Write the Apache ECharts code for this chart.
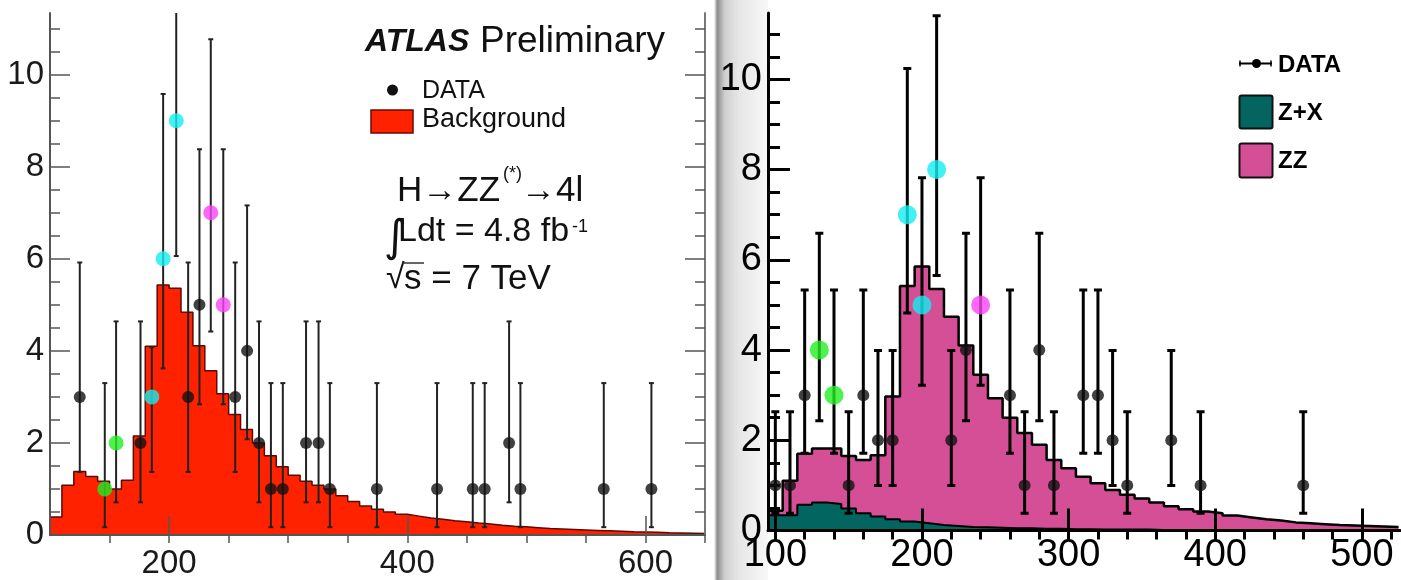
<!DOCTYPE html>
<html><head><meta charset="utf-8">
<script src="https://cdn.jsdelivr.net/npm/echarts@6/dist/echarts.min.js"></script>
<style>html,body{margin:0;padding:0;background:#fff}#c{width:1401px;height:580px}</style>
</head><body><div id="c"></div>
<script>
// ================= DATA =================
// Left panel: background histogram (10 GeV bins, lower edges)
const leftBinEdges = [100,110,120,130,140,150,160,170,180,190,200,210,220,230,240,250,260,270,280,290,300,310,320,330,340,350,360,370,380,390,400,410,420,430,440,450,460,470,480,490,500,510,520,530,540,550,560,570,580,590,600,610,620,630,640];
const leftBackground = [0.39,1.08,1.38,1.27,1.17,1.0,1.19,2.15,4.1,5.43,5.36,4.84,4.11,3.57,3.07,2.62,2.29,2.0,1.72,1.48,1.3,1.17,1.08,1.0,0.85,0.73,0.63,0.56,0.50,0.45,0.41,0.37,0.34,0.31,0.29,0.26,0.24,0.21,0.19,0.18,0.16,0.14,0.13,0.12,0.11,0.10,0.09,0.08,0.07,0.065,0.06,0.05,0.045,0.04,0.035];
// Left panel: data points
const leftX    = [125,146,155.5,176,185.5,195,206,216,225.5,235,245.5,255.5,265.5,275.5,285.5,295.5,315,325.5,335,374.5,425,455,465,485.5,495,565,605];
const leftY    = [3,1,2,2,3,6,9,3,5,7,5,3,4,2,1,1,2,2,1,1,1,1,1,2,1,1,1];
const leftLo   = [1.37,0.17,0.71,0.71,1.37,3.62,6.06,1.37,2.84,4.42,2.84,1.37,2.08,0.71,0.17,0.17,0.71,0.71,0.17,0.17,0.17,0.17,0.17,0.71,0.17,0.17,0.17];
const leftHi   = [5.92,3.30,4.64,4.64,4.08,9.58,13.1,5.92,8.38,10.77,8.38,5.92,7.16,4.64,3.30,3.30,4.64,4.64,3.30,3.30,3.30,3.30,3.30,4.64,3.30,3.30,3.30];
const leftKind = ['k','g','g','k','c','c','c','k','k','m','m','k','k','k','k','k','k','k','k','k','k','k','k','k','k','k','k'];

// Right panel: stacked histograms (10 GeV bins, lower edges)
const rightBinEdges = [95,105,115,125,135,145,155,165,175,185,195,205,215,225,235,245,255,265,275,285,295,305,315,325,335,345,355,365,375,385,395,405,415,425,435,445,455,465,475,485,495,505,515];
const rightZX = [0.34,0.34,0.57,0.62,0.59,0.49,0.38,0.31,0.25,0.20,0.16,0.12,0.10,0.08,0.07,0.06,0.05,0.05,0.04,0.04,0.03,0.03,0.02,0.02,0.02,0.02,0.01,0.01,0.01,0.01,0.01,0.01,0.01,0.01,0.01,0.01,0.01,0.01,0.01,0.01,0.01,0.01,0.01];
const rightZZ = [0.10,0.76,1.13,1.20,1.23,1.16,1.18,1.36,2.72,5.22,5.69,5.23,4.64,4.02,3.38,2.87,2.45,2.11,1.86,1.52,1.35,1.16,1.03,0.88,0.77,0.69,0.61,0.53,0.46,0.41,0.37,0.32,0.28,0.24,0.21,0.17,0.15,0.13,0.11,0.10,0.09,0.08,0.07];
// Right panel: data points
const rightX    = [100,110,120,130,140,150,160,170,180,190,200,210,220,230,240,260,270,280,290,310,320,330,340,370,390,460];
const rightY    = [1,1,3,4,3,1,3,2,2,7,5,8,2,4,5,3,1,4,1,3,3,2,1,2,1,1];
const rightLo   = [0.38,0.38,1.71,2.43,1.71,0.38,1.71,1.0,1.0,4.82,3.22,5.65,1.0,2.43,3.22,1.71,0.38,2.43,0.38,1.71,1.71,1.0,0.38,1.0,0.38,0.38];
const rightHi   = [2.63,2.63,5.33,6.59,5.33,2.63,5.33,3.99,3.99,10.24,7.82,11.41,3.99,6.59,7.82,5.33,2.63,6.59,2.63,5.33,5.33,3.99,2.63,3.99,2.63,2.63];
const rightKind = ['k','k','k','g','g','k','k','k','k','c','c','c','k','k','m','k','k','k','k','k','k','k','k','k','k','k'];

// Tick values / labels
const leftXLabels = [200,400,600];
const leftXMinorTicks = [150,200,250,300,350,400,450,500,550,600,650];
const leftYLabels = [0,2,4,6,8,10];
const yMinorTicks = [0.5,1,1.5,2,2.5,3,3.5,4,4.5,5,5.5,6,6.5,7,7.5,8,8.5,9,9.5,10,10.5,11];
const rightXLabels = [100,200,300,400,500];
const rightXMinorTicks = [100,120,140,160,180,200,220,240,260,280,300,320,340,360,380,400,420,440,460,480,500,520];
const rightYLabels = [0,2,4,6,8,10];

// ================= CHART =================
const FONT = '"Liberation Sans", Arial, Helvetica, sans-serif';
const COL = {k:'#111111', g:'#22ee22', c:'#11eef0', m:'#fb44f6'};

// stacked top of the right-hand histograms (ZZ on top of Z+X)
const rightStackTop = rightZX.map((v,i)=>v + rightZZ[i]);

function stepData(edges, vals){
  const d = edges.map((e,i)=>[e, vals[i]]);
  const w = edges[1]-edges[0];
  d.push([edges[edges.length-1]+w, vals[vals.length-1]]);
  return d;
}
function errRender(color, lw, cap){
  return function(params, api){
    const x = api.value(0), lo = api.value(2), hi = api.value(3);
    const a = api.coord([x, lo]), b = api.coord([x, hi]);
    const st = {stroke: color, lineWidth: lw};
    return {type:'group', children:[
      {type:'line', shape:{x1:a[0],y1:a[1],x2:b[0],y2:b[1]}, style:st},
      {type:'line', shape:{x1:a[0]-cap,y1:a[1],x2:a[0]+cap,y2:a[1]}, style:st},
      {type:'line', shape:{x1:b[0]-cap,y1:b[1],x2:b[0]+cap,y2:b[1]}, style:st}
    ]};
  };
}
function pts(xs, ys, kinds, sk, sc){
  return xs.map((x,i)=>({value:[x, ys[i]], symbolSize: kinds[i]==='k'?sk:sc, itemStyle:{color: COL[kinds[i]]}}));
}

const LG = '#555555';
function xa(grid, min, max, o){ return Object.assign({gridIndex:grid, type:'value', min:min, max:max, z:3, splitLine:{show:false}}, o); }
function ya(grid, min, max, o){ return Object.assign({gridIndex:grid, type:'value', min:min, max:max, z:3, splitLine:{show:false}}, o); }

const chart = echarts.init(document.getElementById('c'), null, {renderer:'canvas'});
const option = {
  animation:false,
  backgroundColor:'#ffffff',
  grid:[
    {left:50, top:13, width:655, height:523.5},
    {left:768, top:13, width:632, height:517.5}
  ],
  xAxis:[
    xa(0,100,650,{axisLine:{show:true,onZero:false,lineStyle:{color:LG,width:2}},
      axisTick:{show:true,inside:true,length:19,customValues:leftXLabels,lineStyle:{color:LG,width:1.5}},
      axisLabel:{show:true,customValues:leftXLabels,margin:12,fontSize:33,color:'#1a1a1a',fontFamily:FONT}}),
    xa(0,100,650,{axisLine:{show:false},
      axisTick:{show:true,inside:true,length:8,customValues:leftXMinorTicks,lineStyle:{color:LG,width:1.5}},
      axisLabel:{show:false}}),
    xa(1,95,526,{axisLine:{show:true,onZero:false,lineStyle:{color:'#000',width:3}},
      axisTick:{show:true,inside:true,length:22,customValues:rightXLabels,lineStyle:{color:'#000',width:3}},
      axisLabel:{show:true,customValues:rightXLabels,margin:6,fontSize:38,color:'#000',fontFamily:FONT}}),
    xa(1,95,526,{axisLine:{show:false},
      axisTick:{show:true,inside:true,length:9,customValues:rightXMinorTicks,lineStyle:{color:'#000',width:3}},
      axisLabel:{show:false}})
  ],
  yAxis:[
    ya(0,0,11.34,{position:'left',axisLine:{show:true,onZero:false,lineStyle:{color:LG,width:2}},
      axisTick:{show:true,inside:true,length:20,customValues:leftYLabels,lineStyle:{color:LG,width:1.5}},
      axisLabel:{show:true,customValues:leftYLabels,margin:6,fontSize:33,color:'#1a1a1a',fontFamily:FONT}}),
    ya(0,0,11.34,{position:'left',axisLine:{show:false},
      axisTick:{show:true,inside:true,length:10,customValues:yMinorTicks,lineStyle:{color:LG,width:1.5}},
      axisLabel:{show:false}}),
    ya(0,0,11.34,{position:'right',axisLine:{show:true,onZero:false,lineStyle:{color:'#777',width:2}},
      axisTick:{show:true,inside:true,length:20,customValues:leftYLabels,lineStyle:{color:LG,width:1.5}},
      axisLabel:{show:false}}),
    ya(0,0,11.34,{position:'right',axisLine:{show:false},
      axisTick:{show:true,inside:true,length:10,customValues:yMinorTicks,lineStyle:{color:LG,width:1.5}},
      axisLabel:{show:false}}),
    ya(1,0,11.47,{position:'left',axisLine:{show:true,onZero:false,lineStyle:{color:'#000',width:3}},
      axisTick:{show:true,inside:true,length:22,customValues:rightYLabels,lineStyle:{color:'#000',width:3}},
      axisLabel:{show:true,customValues:rightYLabels,margin:6,fontSize:38,color:'#000',fontFamily:FONT}}),
    ya(1,0,11.47,{position:'left',axisLine:{show:false},
      axisTick:{show:true,inside:true,length:12,customValues:yMinorTicks,lineStyle:{color:'#000',width:3}},
      axisLabel:{show:false}})
  ],
  series:[
    {type:'line', name:'Background', xAxisIndex:0, yAxisIndex:0, step:'end', symbol:'none', z:2,
      data: stepData(leftBinEdges, leftBackground),
      lineStyle:{color:'#5a0a00', width:1.5}, areaStyle:{color:'#ff2200', opacity:1}},
    {type:'custom', xAxisIndex:0, yAxisIndex:0, z:4, clip:true,
      renderItem: errRender('#222', 2, 2.5),
      data: leftX.map((x,i)=>[x, leftY[i], leftLo[i], leftHi[i]]), encode:{x:0,y:1}},
    {type:'scatter', name:'DATA', xAxisIndex:0, yAxisIndex:0, z:5, symbol:'circle',
      data: pts(leftX, leftY, leftKind, 12, 15)},

    {type:'line', name:'ZZ', xAxisIndex:2, yAxisIndex:4, step:'end', symbol:'none', z:2,
      data: stepData(rightBinEdges, rightStackTop),
      lineStyle:{color:'#000', width:2.5}, areaStyle:{color:'#d54f97', opacity:1}},
    {type:'line', name:'Z+X', xAxisIndex:2, yAxisIndex:4, step:'end', symbol:'none', z:2,
      data: stepData(rightBinEdges, rightZX),
      lineStyle:{color:'#000', width:2}, areaStyle:{color:'#03655f', opacity:1}},
    {type:'custom', xAxisIndex:2, yAxisIndex:4, z:4, clip:true,
      renderItem: errRender('#000', 3, 4),
      data: rightX.map((x,i)=>[x, rightY[i], rightLo[i], rightHi[i]]), encode:{x:0,y:1}},
    {type:'scatter', name:'DATA', xAxisIndex:2, yAxisIndex:4, z:5, symbol:'circle',
      data: pts(rightX, rightY, rightKind, 12, 19)}
  ],
  graphic:[
    {type:'rect', z:-1, shape:{x:714, y:0, width:54, height:580},
      style:{fill:{type:'linear', x:0, y:0, x2:1, y2:0, colorStops:[
        {offset:0, color:'#ffffff'},{offset:0.06, color:'#8c8c8c'},{offset:0.2, color:'#cfcfcf'},
        {offset:0.45, color:'#e6e6e6'},{offset:1, color:'#f7f7f7'}]}}},
    // left panel annotations
    {type:'text', x:365, y:42, style:{text:'ATLAS', font:'italic bold 32px '+FONT, fill:'#111', align:'left', verticalAlign:'middle'}},
    {type:'text', x:480, y:42, style:{text:'Preliminary', font:'37px '+FONT, fill:'#111', align:'left', verticalAlign:'middle'}},
    {type:'circle', shape:{cx:392.5, cy:90, r:5.5}, style:{fill:'#111'}},
    {type:'text', x:422, y:91, style:{text:'DATA', font:'25px '+FONT, fill:'#111', align:'left', verticalAlign:'middle'}},
    {type:'rect', shape:{x:371, y:110, width:42, height:23}, style:{fill:'#ff2200', stroke:'#6a0a00', lineWidth:1.5}},
    {type:'text', x:422, y:120, style:{text:'Background', font:'27px '+FONT, fill:'#111', align:'left', verticalAlign:'middle'}},
    {type:'text', x:397, y:191, style:{text:'H\u2192ZZ', font:'35px '+FONT, fill:'#111', align:'left', verticalAlign:'middle'}},
    {type:'text', x:503, y:174, style:{text:'(*)', font:'18px '+FONT, fill:'#111', align:'left', verticalAlign:'middle'}},
    {type:'text', x:521, y:191, style:{text:'\u21924l', font:'35px '+FONT, fill:'#111', align:'left', verticalAlign:'middle'}},
    {type:'text', x:384, y:240, style:{text:'\u222B', font:'44px "DejaVu Sans", '+FONT, fill:'#111', align:'left', verticalAlign:'middle'}},
    {type:'text', x:398, y:232, style:{text:'Ldt = 4.8 fb', font:'34px '+FONT, fill:'#111', align:'left', verticalAlign:'middle'}},
    {type:'text', x:572, y:227, style:{text:'-1', font:'18px '+FONT, fill:'#111', align:'left', verticalAlign:'middle'}},
    {type:'text', x:386, y:279, style:{text:'\u221A', font:'34px '+FONT, fill:'#111', align:'left', verticalAlign:'middle'}},
    {type:'line', shape:{x1:402, y1:263, x2:424, y2:263}, style:{stroke:'#333', lineWidth:1.5}},
    {type:'text', x:404, y:279, style:{text:'s = 7 TeV', font:'35px '+FONT, fill:'#111', align:'left', verticalAlign:'middle'}},
    // right panel legend
    {type:'line', shape:{x1:1239, y1:63.5, x2:1272, y2:63.5}, style:{stroke:'#000', lineWidth:2}},
    {type:'line', shape:{x1:1240, y1:60.5, x2:1240, y2:66.5}, style:{stroke:'#000', lineWidth:1.5}},
    {type:'line', shape:{x1:1271, y1:60.5, x2:1271, y2:66.5}, style:{stroke:'#000', lineWidth:1.5}},
    {type:'circle', shape:{cx:1256.5, cy:63.5, r:4.5}, style:{fill:'#000'}},
    {type:'text', x:1278, y:65, style:{text:'DATA', font:'bold 24px '+FONT, fill:'#000', align:'left', verticalAlign:'middle'}},
    {type:'rect', shape:{x:1239.5, y:95.5, width:33, height:33, r:2}, style:{fill:'#03655f', stroke:'#111', lineWidth:2}},
    {type:'text', x:1278, y:113, style:{text:'Z+X', font:'bold 24px '+FONT, fill:'#000', align:'left', verticalAlign:'middle'}},
    {type:'rect', shape:{x:1239.5, y:143.5, width:33, height:34, r:2}, style:{fill:'#d54f97', stroke:'#111', lineWidth:2}},
    {type:'text', x:1278, y:161, style:{text:'ZZ', font:'bold 24px '+FONT, fill:'#000', align:'left', verticalAlign:'middle'}}
  ]
};
chart.setOption(option);
</script></body></html>
